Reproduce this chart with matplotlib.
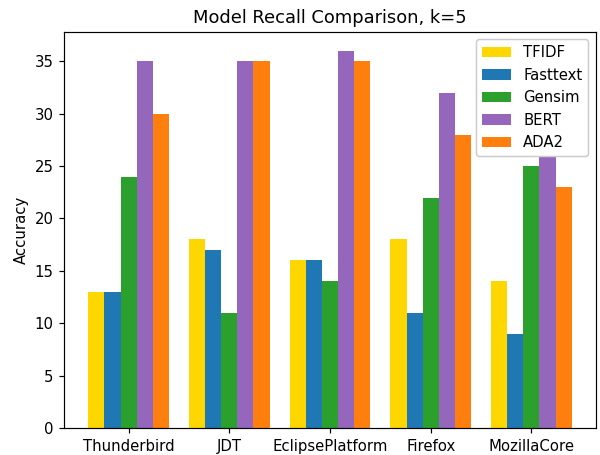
import matplotlib
matplotlib.use("Agg")
import matplotlib.pyplot as plt
import numpy as np

projects = ["Thunderbird", "JDT", "EclipsePlatform", "Firefox", "MozillaCore"]
models = ["TFIDF", "Fasttext", "Gensim", "BERT", "ADA2"]
tfidf = [13, 18, 16, 18, 14]
fasttext = [13, 17, 16, 11, 9]
gensim = [24, 11, 14, 22, 25]
bert = [35, 35, 36, 32, 30]
ada2 = [30, 35, 35, 28, 23]
colors = ["#FFD700", "#1f77b4", "#2ca02c", "#9467bd", "#ff7f0e"]

series = [tfidf, fasttext, gensim, bert, ada2]

DPI = 107
fig = plt.figure(figsize=(600 / DPI, 455 / DPI), dpi=DPI)
ax = fig.add_axes([0.107, 0.059, 0.886, 0.871])
x = np.arange(len(projects))
w = 0.16
for i, (name, vals) in enumerate(zip(models, series)):
    ax.bar(x + (i - 2) * w, vals, w, label=name, color=colors[i])
ax.set_xticks(x)
ax.set_xticklabels(projects)
ax.set_ylabel("Accuracy")
ax.set_title("Model Recall Comparison, k=5")
ax.legend(loc="upper right", framealpha=1.0)
fig.savefig("out.png", dpi=DPI)
